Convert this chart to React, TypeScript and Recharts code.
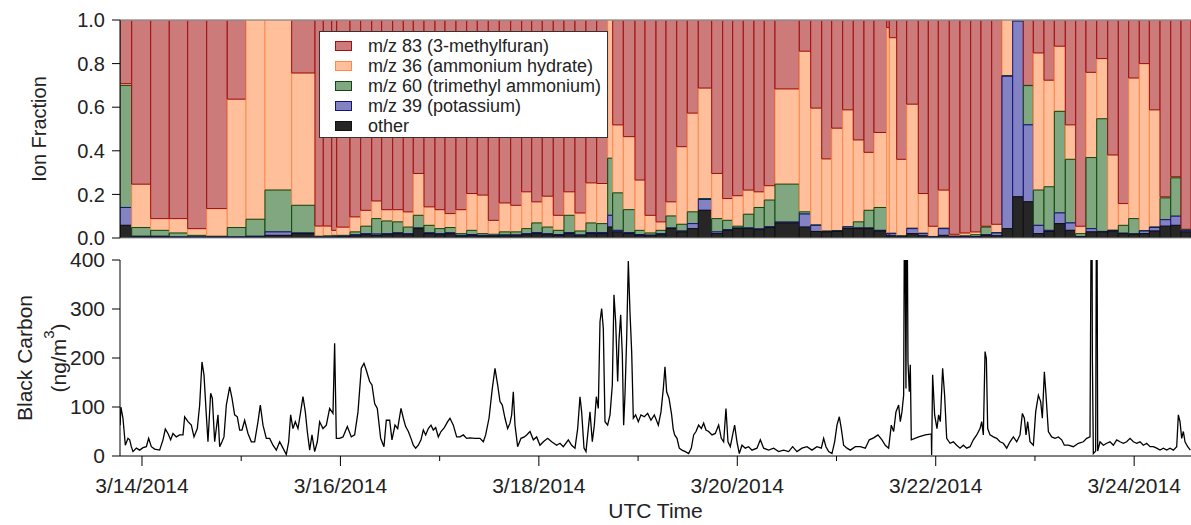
import React from 'react';
import { ComposedChart, LineChart, Line, XAxis, YAxis, ReferenceArea, ReferenceLine } from 'recharts';

const FONT = '"Liberation Sans", Arial, sans-serif';
const W = 1191;
const X_MIN = -5.32;
const X_MAX = 253.75;

// sample edges, hours after 3/14/2014 00:00 UTC (93 samples + closing edge)
const barEdges = [
  -5.32, -2.49, 2.1, 6.6, 11.05, 15.65, 20.63, 25.16, 29.75, 36.21,
  41.85, 43.86, 45.89, 47.1, 50.32, 52.9, 55.57, 57.98, 60.64, 63.21,
  65.63, 68.22, 70.88, 73.3, 75.96, 78.55, 81.11, 83.77, 86.43, 89.19,
  91.85, 94.27, 96.83, 99.49, 102.08, 104.74, 107.4, 109.99, 112.65, 113.86,
  116.43, 119.26, 121.68, 124.34, 126.76, 129.35, 131.91, 134.57, 137.81, 140.47,
  142.89, 145.45, 148.04, 150.53, 153.12, 159.0, 161.76, 164.42, 166.84, 169.5,
  172.06, 174.65, 177.07, 180.14, 180.77, 182.56, 184.98, 187.79, 190.21, 192.63,
  195.29, 197.87, 200.46, 202.95, 205.54, 208.03, 210.62, 213.19, 215.61, 218.19,
  220.69, 223.35, 225.86, 228.35, 230.94, 233.6, 236.17, 238.68, 241.25, 243.68,
  246.26, 248.85, 251.34, 253.75,
];

// ion fractions per sample
const other = [
  0.058, 0.005, 0.005, 0.003, 0.003, 0.003, 0.003, 0.005, 0.012, 0.02,
  0.003, 0.003, 0.003, 0.005, 0.01, 0.015, 0.012, 0.015, 0.02, 0.015,
  0.043, 0.02, 0.015, 0.02, 0.008, 0.012, 0.008, 0.008, 0.01, 0.01,
  0.015, 0.02, 0.015, 0.012, 0.02, 0.01, 0.02, 0.02, 0.05, 0.028,
  0.02, 0.012, 0.01, 0.015, 0.043, 0.028, 0.043, 0.127, 0.02, 0.035,
  0.043, 0.043, 0.038, 0.048, 0.069, 0.05, 0.03, 0.028, 0.03, 0.043,
  0.043, 0.043, 0.032, 0.01, 0.01, 0.005, 0.02, 0.01, 0.003, 0.012,
  0.004, 0.004, 0.004, 0.012, 0.01, 0.043, 0.189, 0.166, 0.02, 0.03,
  0.066, 0.035, 0.005, 0.028, 0.028, 0.032, 0.02, 0.017, 0.02, 0.032,
  0.054, 0.058, 0.028,
];
const m39 = [
  0.082, 0.003, 0.003, 0.002, 0.002, 0.002, 0.002, 0.003, 0.016, 0.003,
  0.002, 0.002, 0.003, 0.003, 0.005, 0.005, 0.006, 0.005, 0.004, 0.005,
  0.003, 0.004, 0.005, 0.004, 0.004, 0.004, 0.004, 0.003, 0.004, 0.004,
  0.005, 0.005, 0.005, 0.004, 0.005, 0.004, 0.005, 0.005, 0.054, 0.007,
  0.005, 0.004, 0.003, 0.005, 0.003, 0.004, 0.023, 0.05, 0.008, 0.003,
  0.003, 0.003, 0.004, 0.004, 0.004, 0.06, 0.028, 0.002, 0.002, 0.007,
  0.003, 0.003, 0.003, 0.01, 0.01, 0.003, 0.023, 0.01, 0.002, 0.031,
  0.003, 0.003, 0.003, 0.003, 0.013, 0.699, 0.806, 0.353, 0.038, 0.005,
  0.049, 0.034, 0.002, 0.015, 0.002, 0.002, 0.002, 0.002, 0.012, 0.016,
  0.03, 0.042, 0.007,
];
const m60 = [
  0.56, 0.04, 0.027, 0.018, 0.007, 0.003, 0.043, 0.078, 0.192, 0.127,
  0.003, 0.005, 0.006, 0.004, 0.013, 0.034, 0.071, 0.058, 0.05, 0.03,
  0.058, 0.034, 0.023, 0.024, 0.008, 0.019, 0.008, 0.006, 0.014, 0.014,
  0.023, 0.044, 0.03, 0.019, 0.079, 0.018, 0.044, 0.041, 0.262, 0.172,
  0.105, 0.019, 0.01, 0.015, 0.055, 0.031, 0.054, 0.004, 0.061, 0.043,
  0.008, 0.063, 0.098, 0.122, 0.174, 0.01, 0.002, 0.002, 0.002, 0.002,
  0.028, 0.081, 0.105, 0.002, 0.002, 0.002, 0.002, 0.002, 0.002, 0.002,
  0.002, 0.003, 0.008, 0.035, 0.002, 0.003, 0.002, 0.18, 0.162, 0.2,
  0.466, 0.292, 0.013, 0.326, 0.517, 0.002, 0.036, 0.07, 0.002, 0.003,
  0.1, 0.176, 0.002,
];
const m36 = [
  0.008, 0.199, 0.054, 0.066, 0.031, 0.127, 0.589, 0.914, 0.78, 0.607,
  0.047, 0.045, 0.023, 0.038, 0.069, 0.073, 0.081, 0.052, 0.056, 0.07,
  0.192, 0.085, 0.087, 0.064, 0.11, 0.169, 0.177, 0.064, 0.133, 0.122,
  0.169, 0.097, 0.142, 0.069, 0.108, 0.083, 0.184, 0.184, 0.634, 0.312,
  0.335, 0.231, 0.081, 0.039, 0.065, 0.356, 0.453, 0.507, 0.207, 0.1,
  0.14, 0.111, 0.072, 0.066, 0.437, 0.737, 0.536, 0.331, 0.47, 0.536,
  0.376, 0.266, 0.344, 0.943, 0.897, 0.351, 0.569, 0.182, 0.047, 0.175,
  0.008, 0.013, 0.013, 0.004, 0.038, 0.255, 0.003, 0.001, 0.629, 0.489,
  0.299, 0.158, 0.034, 0.391, 0.276, 0.345, 0.1, 0.645, 0.766, 0.537,
  0.005, 0.005, 0.003,
];
const m83 = [
  0.292, 0.753, 0.911, 0.911, 0.957, 0.865, 0.363, 0, 0, 0.243,
  0.945, 0.945, 0.965, 0.95, 0.903, 0.873, 0.83, 0.87, 0.87, 0.88,
  0.704, 0.857, 0.87, 0.888, 0.87, 0.796, 0.803, 0.919, 0.839, 0.85,
  0.788, 0.834, 0.808, 0.896, 0.788, 0.885, 0.747, 0.75, 0, 0.481,
  0.535, 0.734, 0.896, 0.926, 0.834, 0.581, 0.427, 0.312, 0.704, 0.819,
  0.806, 0.78, 0.788, 0.76, 0.316, 0.143, 0.404, 0.637, 0.496, 0.412,
  0.55, 0.607, 0.516, 0.035, 0.081, 0.639, 0.386, 0.796, 0.946, 0.78,
  0.983, 0.977, 0.972, 0.946, 0.937, 0, 0, 0.3, 0.151, 0.276,
  0.12, 0.481, 0.946, 0.24, 0.177, 0.619, 0.842, 0.266, 0.2, 0.412,
  0.811, 0.719, 0.96,
];

// black carbon [hours after 3/14 00:00, ng/m3]
const blackCarbon: [number, number][] = [
  [-5.3, 63], [-5.1, 100], [-4.6, 77], [-4.03, 22], [-3.39, 36], [-2.98, 33], [-2.58, 19], [-2.18, 9], [-1.37, 16], [-0.56, 12],
  [0.24, 17], [1.05, 19], [1.61, 36], [2.26, 19], [3.06, 14], [4.27, 12], [5.08, 33], [5.64, 55], [6.29, 46], [6.93, 33],
  [7.5, 46], [8.3, 39], [9.11, 43], [9.92, 43], [10.32, 80], [11.13, 70], [11.93, 63], [12.58, 39], [13.38, 56], [13.95, 104],
  [14.51, 192], [15.0, 165], [15.56, 84], [15.96, 29], [16.61, 128], [17.01, 118], [17.58, 29], [18.38, 84], [18.79, 19], [19.35, 29],
  [19.83, 39], [20.4, 104], [21.21, 141], [21.77, 118], [22.41, 84], [23.06, 80], [23.62, 53], [24.19, 53], [24.83, 73], [25.64, 46],
  [26.45, 29], [27.25, 29], [28.06, 70], [28.62, 104], [29.27, 63], [30.07, 36], [30.88, 36], [31.69, 22], [32.49, 12], [33.3, 29],
  [34.11, 16], [34.91, 3], [35.48, 29], [35.96, 84], [36.52, 56], [37.09, 70], [37.73, 56], [38.38, 90], [38.94, 121], [39.51, 90],
  [39.99, 50], [40.56, 12], [41.12, 43], [41.77, 9], [42.41, 29], [42.97, 70], [43.78, 56], [44.59, 63], [45.39, 97], [46.2, 87],
  [46.6, 230], [47.01, 36], [47.81, 36], [48.62, 39], [49.67, 60], [50.63, 39], [51.44, 43], [52.25, 90], [53.05, 179], [53.7, 189],
  [54.26, 175], [55.07, 152], [55.63, 145], [56.28, 107], [56.92, 97], [57.73, 36], [58.53, 19], [59.1, 73], [59.91, 73], [60.47, 33],
  [61.2, 63], [61.85, 56], [62.65, 97], [63.22, 77], [63.78, 60], [64.43, 50], [65.07, 36], [65.63, 22], [66.2, 16], [66.84, 22],
  [67.49, 33], [68.05, 53], [68.62, 43], [69.26, 56], [69.91, 63], [70.47, 53], [71.04, 58], [71.68, 39], [72.33, 50], [73.13, 58],
  [73.94, 70], [74.5, 77], [75.31, 63], [76.12, 39], [76.92, 39], [77.73, 43], [78.54, 36], [79.34, 37], [80.55, 36], [81.76, 36],
  [82.57, 29], [83.13, 43], [83.94, 77], [84.74, 138], [85.39, 179], [86.03, 145], [86.6, 111], [87.16, 104], [87.81, 77], [88.45, 56],
  [89.02, 67], [89.42, 84], [89.82, 131], [90.23, 63], [90.87, 19], [91.68, 36], [92.48, 39], [93.05, 43], [93.86, 50], [94.66, 33],
  [95.47, 39], [96.27, 22], [97.08, 29], [98.13, 36], [99.1, 29], [100.31, 22], [101.11, 26], [101.92, 19], [103.13, 33], [103.93, 22],
  [104.74, 16], [105.39, 56], [105.95, 121], [106.35, 90], [106.92, 16], [107.4, 9], [107.96, 56], [108.37, 90], [108.93, 29], [109.42, 63],
  [109.9, 121], [110.38, 97], [110.79, 274], [111.19, 301], [111.59, 260], [112.0, 70], [112.64, 63], [113.21, 84], [113.77, 145], [114.17, 329],
  [114.58, 274], [115.06, 152], [115.38, 235], [115.79, 288], [116.19, 206], [116.51, 63], [116.83, 124], [117.24, 240], [117.64, 398], [118.04, 294],
  [118.45, 213], [118.85, 77], [119.41, 84], [120.06, 70], [120.7, 84], [121.51, 80], [122.32, 87], [123.12, 73], [123.93, 84], [124.9, 63],
  [125.54, 90], [126.11, 138], [126.51, 182], [126.91, 131], [127.48, 118], [128.12, 84], [128.5, 55], [128.85, 43], [129.41, 36], [129.97, 16],
  [130.62, 12], [131.43, 9], [132.23, 5], [132.88, 16], [133.44, 43], [134.01, 50], [134.65, 63], [135.3, 56], [135.86, 67], [136.42, 53],
  [137.07, 50], [137.88, 43], [138.68, 46], [139.49, 63], [140.13, 36], [140.7, 29], [141.26, 97], [141.75, 29], [142.31, 19], [142.87, 43],
  [143.36, 63], [143.92, 29], [144.49, 5], [145.13, 22], [145.94, 16], [146.74, 19], [147.55, 12], [148.76, 16], [149.57, 33], [150.37, 16],
  [151.58, 12], [152.79, 16], [154.0, 9], [155.21, 12], [156.42, 9], [157.39, 19], [158.44, 9], [159.65, 16], [160.86, 19], [162.06, 12],
  [163.27, 19], [164.32, 16], [164.89, 36], [165.45, 19], [166.1, 9], [166.9, 5], [167.55, 29], [168.11, 63], [168.68, 80], [169.16, 56],
  [169.72, 22], [170.53, 16], [171.34, 12], [172.55, 19], [173.76, 19], [174.97, 16], [175.93, 33], [176.98, 37], [178.03, 43], [178.99, 33],
  [179.8, 22], [180.61, 16], [181.25, 63], [181.82, 50], [182.38, 90], [183.03, 104], [183.43, 70], [183.83, 90], [184.24, 124], [184.48, 600],
  [184.8, 138], [185.04, 600], [185.29, 192], [185.61, 131], [185.85, 186], [186.09, 33], [187.87, 39], [189.48, 43], [190.93, 45], [191.01, 2],
  [191.25, 166], [191.74, 84], [192.3, 56], [192.7, 84], [193.11, 70], [193.67, 179], [194.15, 124], [194.65, 36], [195.46, 26], [196.27, 29],
  [197.07, 22], [197.88, 16], [198.68, 22], [199.49, 16], [200.3, 19], [201.1, 33], [201.91, 43], [202.72, 56], [203.12, 70], [203.52, 43],
  [203.93, 213], [204.25, 199], [204.57, 56], [205.13, 43], [205.94, 39], [206.75, 36], [207.55, 29], [208.36, 26], [209.17, 16], [209.97, 29],
  [210.78, 39], [211.59, 29], [212.39, 43], [212.96, 87], [213.44, 77], [213.84, 43], [214.25, 70], [214.81, 29], [215.62, 22], [216.18, 90],
  [216.83, 124], [217.39, 111], [217.79, 77], [218.28, 172], [218.68, 124], [219.25, 50], [220.05, 39], [220.86, 36], [221.66, 39], [222.47, 33],
  [223.11, 22], [224.08, 22], [225.29, 19], [226.5, 26], [227.71, 29], [228.52, 36], [229.32, 39], [229.73, 700], [229.89, 200], [230.13, 5],
  [230.69, 10], [230.94, 700], [231.18, 10], [231.74, 29], [232.55, 22], [233.36, 26], [234.16, 29], [234.97, 22], [235.78, 33], [236.58, 29],
  [237.39, 26], [238.19, 29], [239.0, 36], [239.81, 29], [240.61, 26], [241.42, 29], [242.23, 22], [243.03, 26], [243.84, 19], [244.64, 19],
  [245.45, 16], [246.26, 12], [247.06, 16], [247.87, 12], [248.68, 16], [249.48, 12], [250.29, 19], [250.69, 84], [251.09, 70], [251.5, 36],
  [251.9, 50], [252.3, 29], [252.95, 19], [253.59, 12],
];

const dayTicks = [0, 24, 48, 72, 96, 120, 144, 168, 192, 216, 240];
const dayLabels = ['3/14/2014', '', '3/16/2014', '', '3/18/2014', '', '3/20/2014', '', '3/22/2014', '', '3/24/2014'];
const fractionTicks = [0, 0.2, 0.4, 0.6, 0.8, 1];
const bcTicks = [0, 100, 200, 300, 400];

// bottom -> top stacking
const stack = [
  { key: 'other', name: 'other', values: other, fill: '#262626', stroke: '#111111' },
  { key: 'm39', name: 'm/z 39 (potassium)', values: m39, fill: '#8383C3', stroke: '#14147A' },
  { key: 'm60', name: 'm/z 60 (trimethyl ammonium)', values: m60, fill: '#80A780', stroke: '#0E4A0E' },
  { key: 'm36', name: 'm/z 36 (ammonium hydrate)', values: m36, fill: '#FFBF9B', stroke: '#FA8A4E' },
  { key: 'm83', name: 'm/z 83 (3-methylfuran)', values: m83, fill: '#CD7A7A', stroke: '#9E0F0F' },
];
const drawOrder = ['m36', 'm83', 'm60', 'm39', 'other'];
const legendOrder = ['m83', 'm36', 'm60', 'm39', 'other'];

const tickStyle = { fontSize: 21, fill: '#222', fontFamily: FONT };

const DateTick = (props: any) => {
  const { x, y, payload } = props;
  const i = dayTicks.indexOf(payload.value);
  const major = i % 2 === 0;
  return (
    <g>
      <line x1={x} y1={y} x2={x} y2={y + (major ? 10 : 5)} stroke="#000" />
      {major && (
        <text x={x} y={y + 37} textAnchor="middle" fontSize={21} fill="#222" fontFamily={FONT}>
          {dayLabels[i]}
        </text>
      )}
    </g>
  );
};

const IonLabel = (props: any) => {
  const vb = props.viewBox || { y: 20, height: 218 };
  const cx = 39;
  const cy = vb.y + vb.height / 2;
  return (
    <text x={cx} y={cy} transform={`rotate(-90 ${cx} ${cy})`} textAnchor="middle" dominantBaseline="central"
      fontSize={20} fill="#222" fontFamily={FONT}>Ion Fraction</text>
  );
};

const BcLabel = (props: any) => {
  const vb = props.viewBox || { y: 20, height: 196 };
  const cy = vb.y + vb.height / 2;
  return (
    <g fontFamily={FONT} fill="#222">
      <text x={24} y={cy} transform={`rotate(-90 24 ${cy})`} textAnchor="middle" dominantBaseline="central" fontSize={21}>
        Black Carbon
      </text>
      <text x={58} y={cy} transform={`rotate(-90 58 ${cy})`} textAnchor="middle" dominantBaseline="central" fontSize={21}>
        (ng/m<tspan dy={-10} fontSize={15}>3</tspan><tspan dy={10}>)</tspan>
      </text>
    </g>
  );
};

export default function App() {
  const segments: any[] = [];
  const barRows: any[] = [];
  for (let i = 0; i < barEdges.length - 1; i++) {
    const bounds: Record<string, [number, number]> = {};
    let base = 0;
    stack.forEach((s) => {
      const top = Math.min(1, base + s.values[i]);
      bounds[s.key] = [base, top];
      base = top;
    });
    barRows.push({ x: barEdges[i], total: base });
    drawOrder.forEach((k) => {
      const s = stack.find((d) => d.key === k)!;
      const [y1, y2] = bounds[k];
      if (y2 - y1 <= 0) return;
      segments.push({ id: `${k}-${i}`, x1: barEdges[i], x2: barEdges[i + 1], y1, y2, fill: s.fill, stroke: s.stroke });
    });
  }
  const lineData = blackCarbon.map(([t, v]) => ({ t, v }));

  return (
    <div style={{ position: 'absolute', left: 0, top: 0, width: W, height: 525, background: '#fff', fontFamily: FONT }}>
      <div style={{ position: 'absolute', left: 0, top: 0 }}>
        <ComposedChart width={W} height={260} data={barRows} margin={{ top: 20, right: 0, bottom: 21, left: 0 }}>
          <XAxis type="number" dataKey="x" domain={[X_MIN, X_MAX]} allowDataOverflow height={1}
            tick={false} tickLine={false} axisLine={{ stroke: '#999' }} />
          <YAxis type="number" domain={[0, 1]} allowDataOverflow ticks={fractionTicks} interval={0} width={120}
            tickSize={8} tickMargin={7} tickFormatter={(v: number) => v.toFixed(1)} tick={{ ...tickStyle, fontSize: 20 }}
            axisLine={{ stroke: '#000' }} tickLine={{ stroke: '#000' }} label={IonLabel} />
          {segments.map((s) => (
            <ReferenceArea key={s.id} x1={s.x1} x2={s.x2} y1={s.y1} y2={s.y2} fill={s.fill} fillOpacity={1}
              stroke={s.stroke} strokeWidth={1} ifOverflow="hidden" />
          ))}
          <Line dataKey="total" stroke="none" dot={false} activeDot={false} isAnimationActive={false} legendType="none" />
          <ReferenceLine y={1} stroke="#999" strokeWidth={1.5} />
        </ComposedChart>
      </div>

      <div style={{
        position: 'absolute', left: 319, top: 31, width: 289, height: 107, boxSizing: 'border-box',
        border: '1px solid #333', background: '#fff', paddingTop: 4, paddingLeft: 15,
      }}>
        {legendOrder.map((k) => {
          const s = stack.find((d) => d.key === k)!;
          return (
            <div key={k} style={{ display: 'flex', alignItems: 'center', height: 20 }}>
              <div style={{
                width: 17, height: 10, boxSizing: 'border-box', background: s.fill,
                border: `1.5px solid ${s.stroke}`, marginRight: 16,
              }} />
              <span style={{ fontSize: 18, color: '#222', whiteSpace: 'nowrap', lineHeight: '20px' }}>{s.name}</span>
            </div>
          );
        })}
      </div>

      <div style={{ position: 'absolute', left: 0, top: 240 }}>
        <LineChart width={W} height={285} data={lineData} margin={{ top: 20, right: 0, bottom: 0, left: 0 }}>
          <XAxis type="number" dataKey="t" domain={[X_MIN, X_MAX]} allowDataOverflow ticks={dayTicks} interval={0}
            height={69} tickSize={0} tickMargin={0} tickLine={false} tick={<DateTick />}
            axisLine={{ stroke: '#000' }}
            label={{ value: 'UTC Time', position: 'insideBottom', offset: 7, fontSize: 21, fill: '#222', fontFamily: FONT }} />
          <YAxis type="number" domain={[0, 400]} allowDataOverflow ticks={bcTicks} interval={0} width={120}
            tickSize={8} tickMargin={7} tick={tickStyle} axisLine={{ stroke: '#000' }} tickLine={{ stroke: '#000' }}
            label={BcLabel} />
          <Line type="linear" dataKey="v" stroke="#000" strokeWidth={1.3} dot={false} isAnimationActive={false} />
        </LineChart>
      </div>
    </div>
  );
}
